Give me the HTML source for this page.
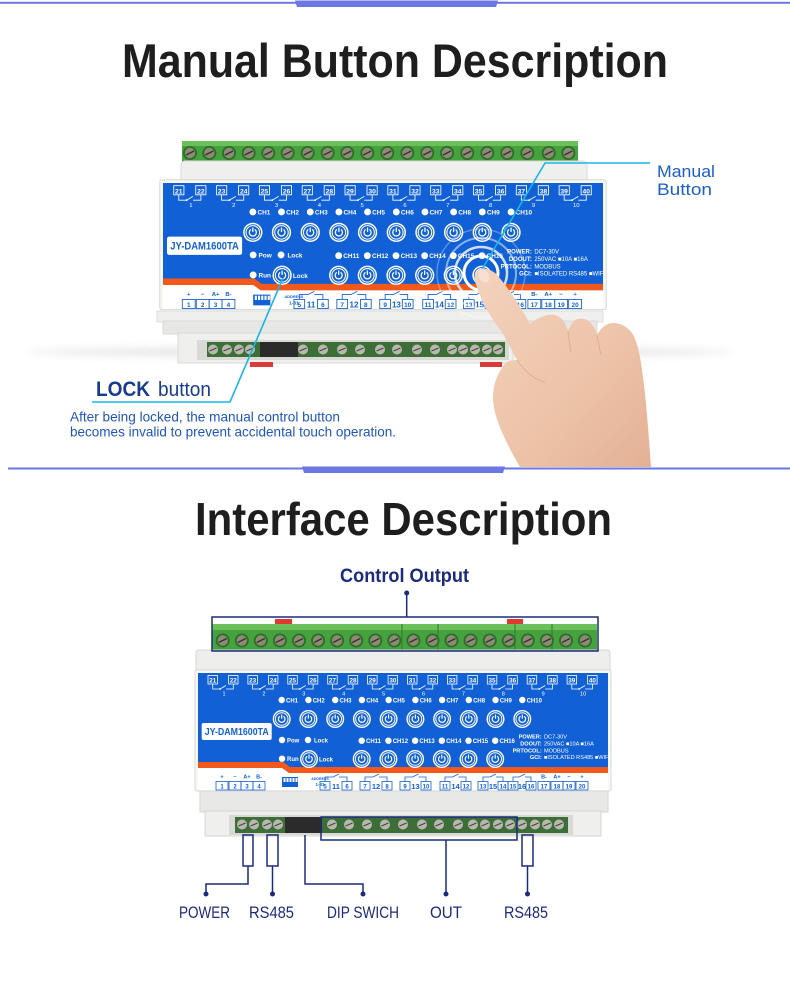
<!DOCTYPE html>
<html><head><meta charset="utf-8">
<style>html,body{margin:0;padding:0;background:#fff;}svg{display:block}</style>
</head><body>
<svg width="790" height="1008" viewBox="0 0 790 1008" xmlns="http://www.w3.org/2000/svg" font-family="'Liberation Sans', sans-serif">
<defs>
 <g id="b"><circle r="9" fill="#fff"/><circle r="7.6" fill="#1160d6"/><circle r="6.3" fill="none" stroke="#fff" stroke-width="1"/><path d="M-2.2,-2.4 A3.3,3.3 0 1 0 2.2,-2.4" fill="none" stroke="#fff" stroke-width="1.2" stroke-linecap="round"/><line x1="0" y1="-4" x2="0" y2="-0.8" stroke="#fff" stroke-width="1.2" stroke-linecap="round"/></g>
 <g id="pr"><rect x="-15" y="2.5" width="9.5" height="8.5" fill="none" stroke="#fff" stroke-width=".8"/><rect x="5.5" y="2.5" width="9.5" height="8.5" fill="none" stroke="#fff" stroke-width=".8"/><path d="M-10.3,11V16H-3M-3,16L3,12.5M3,16H10.3V11" fill="none" stroke="#fff" stroke-width="0.8"/><circle cx="-3" cy="16" r="0.9" fill="#fff"/></g>
 <g id="ts"><circle r="7" fill="#2e6e2a"/><circle r="5.2" fill="#8d8b74"/><line x1="-4" y1="2" x2="4" y2="-2" stroke="#333" stroke-width="1.3"/></g>
 <g id="ls"><circle r="5" fill="#b8b8ae"/><line x1="-3.5" y1="1.5" x2="3.5" y2="-1.5" stroke="#444" stroke-width="1.1"/></g>
 <filter id="blur" x="-20%" y="-300%" width="140%" height="700%"><feGaussianBlur stdDeviation="4"/></filter>
 <linearGradient id="skin" x1="0" y1="0" x2="1" y2="1"><stop offset="0" stop-color="#f3d2bd"/><stop offset="0.6" stop-color="#edc3a8"/><stop offset="1" stop-color="#e3b095"/></linearGradient>
</defs>

<rect width="790" height="1008" fill="#fff"/>

<!-- top divider -->
<rect x="0" y="1.8" width="790" height="2" fill="#6b77e3"/>
<polygon points="295,0.5 498,0.5 496,7 297,7" fill="#6b77e3"/>

<text x="122" y="77" font-size="47" font-weight="bold" fill="#1e1e1e" textLength="546" lengthAdjust="spacingAndGlyphs">Manual Button Description</text>

<!-- shadow -->
<ellipse cx="380" cy="352" rx="350" ry="5" fill="#c8c8c8" opacity="0.45" filter="url(#blur)"/>

<!-- DEVICE 1 -->
<rect x="182" y="141" width="396" height="22" rx="2" fill="#45a23e"/>
<rect x="182" y="141" width="396" height="5" fill="#6cc05a"/>
<g>
<use href="#ts" x="190" y="153"/><use href="#ts" x="209.3" y="153"/><use href="#ts" x="229" y="153"/><use href="#ts" x="248.7" y="153"/><use href="#ts" x="268.3" y="153"/><use href="#ts" x="287.7" y="153"/><use href="#ts" x="307.7" y="153"/><use href="#ts" x="327.7" y="153"/><use href="#ts" x="347.3" y="153"/><use href="#ts" x="367.3" y="153"/><use href="#ts" x="387.3" y="153"/><use href="#ts" x="407.3" y="153"/><use href="#ts" x="427.3" y="153"/><use href="#ts" x="447" y="153"/><use href="#ts" x="467.3" y="153"/><use href="#ts" x="487.3" y="153"/><use href="#ts" x="507.3" y="153"/><use href="#ts" x="527.3" y="153"/><use href="#ts" x="548.7" y="153"/><use href="#ts" x="568.3" y="153"/>
</g>
<rect x="181" y="161" width="406" height="24" rx="4" fill="#efefed" stroke="#dadad8"/>
<rect x="157" y="311" width="446" height="11" fill="#efefed" stroke="#dcdcda"/>
<rect x="163" y="321" width="434" height="13" fill="#e7e7e5" stroke="#dadad8"/>
<rect x="178" y="333" width="335" height="30" fill="#efefed" stroke="#dadad8"/>
<rect x="197" y="340" width="312" height="20" fill="#d9d9d5"/>
<rect x="207" y="342" width="298" height="15" fill="#3d6e37"/>
<rect x="260" y="342" width="38" height="15" fill="#2b2b2b"/>
<g>
<use href="#ls" x="213" y="349.5"/><use href="#ls" x="227" y="349.5"/><use href="#ls" x="239" y="349.5"/><use href="#ls" x="250" y="349.5"/><use href="#ls" x="303" y="349.5"/><use href="#ls" x="323" y="349.5"/><use href="#ls" x="342" y="349.5"/><use href="#ls" x="360" y="349.5"/><use href="#ls" x="380" y="349.5"/><use href="#ls" x="397" y="349.5"/><use href="#ls" x="417" y="349.5"/><use href="#ls" x="435" y="349.5"/><use href="#ls" x="452" y="349.5"/><use href="#ls" x="463" y="349.5"/><use href="#ls" x="475" y="349.5"/><use href="#ls" x="487" y="349.5"/><use href="#ls" x="498" y="349.5"/>
</g>
<rect x="250" y="362" width="23" height="5" fill="#d93a3a"/>
<rect x="480" y="362" width="22" height="5" fill="#d93a3a"/>

<g transform="translate(163,183) scale(1.0732)">
<rect x="-3" y="-3" width="416" height="121" rx="2" fill="#f7f7f5" stroke="#d9d9d7"/>
<rect x="0" y="0" width="410" height="100" fill="#1160d6"/>
<polygon points="0,89 85,89 92,94 410,94 410,100 91,100 84,95 0,95" fill="#f2581a"/>
<polygon points="0,95 84,95 91,100 410,100 410,117 0,117" fill="#fff"/>
<use href="#pr" x="25"/><use href="#pr" x="64.9"/><use href="#pr" x="104.8"/><use href="#pr" x="144.7"/><use href="#pr" x="184.6"/><use href="#pr" x="224.5"/><use href="#pr" x="264.4"/><use href="#pr" x="304.3"/><use href="#pr" x="344.2"/><use href="#pr" x="384.1"/>
<g fill="#fff" font-size="6.3" font-weight="bold" text-anchor="middle">
<text x="14.7" y="9.6">21</text><text x="35.3" y="9.6">22</text><text x="54.6" y="9.6">23</text><text x="75.2" y="9.6">24</text><text x="94.5" y="9.6">25</text><text x="115.1" y="9.6">26</text><text x="134.4" y="9.6">27</text><text x="155" y="9.6">28</text><text x="174.3" y="9.6">29</text><text x="194.9" y="9.6">30</text><text x="214.2" y="9.6">31</text><text x="234.8" y="9.6">32</text><text x="254.1" y="9.6">33</text><text x="274.7" y="9.6">34</text><text x="294" y="9.6">35</text><text x="314.6" y="9.6">36</text><text x="333.9" y="9.6">37</text><text x="354.5" y="9.6">38</text><text x="373.8" y="9.6">39</text><text x="394.4" y="9.6">40</text>
</g>
<g fill="#fff" font-size="5.5" text-anchor="middle">
<text x="26" y="22.5">1</text><text x="65.9" y="22.5">2</text><text x="105.8" y="22.5">3</text><text x="145.7" y="22.5">4</text><text x="185.6" y="22.5">5</text><text x="225.5" y="22.5">6</text><text x="265.4" y="22.5">7</text><text x="305.3" y="22.5">8</text><text x="345.2" y="22.5">9</text><text x="385.1" y="22.5">10</text>
</g>
<g fill="#fff">
<circle cx="83.7" cy="27" r="3.2"/><circle cx="110.4" cy="27" r="3.2"/><circle cx="137.2" cy="27" r="3.2"/><circle cx="163.9" cy="27" r="3.2"/><circle cx="190.6" cy="27" r="3.2"/><circle cx="217.4" cy="27" r="3.2"/><circle cx="244.1" cy="27" r="3.2"/><circle cx="270.8" cy="27" r="3.2"/><circle cx="297.5" cy="27" r="3.2"/><circle cx="324.3" cy="27" r="3.2"/>
<circle cx="163.7" cy="67.7" r="3.2"/><circle cx="190.4" cy="67.7" r="3.2"/><circle cx="217.1" cy="67.7" r="3.2"/><circle cx="243.8" cy="67.7" r="3.2"/><circle cx="270.5" cy="67.7" r="3.2"/><circle cx="297.2" cy="67.7" r="3.2"/>
<circle cx="84" cy="67" r="3.2"/><circle cx="110" cy="67" r="3.2"/><circle cx="84" cy="85.7" r="3.2"/>
</g>
<g fill="#fff" font-size="6" font-weight="bold">
<text x="88" y="29.3">CH1</text><text x="114.7" y="29.3">CH2</text><text x="141.5" y="29.3">CH3</text><text x="168.2" y="29.3">CH4</text><text x="194.9" y="29.3">CH5</text><text x="221.7" y="29.3">CH6</text><text x="248.4" y="29.3">CH7</text><text x="275.1" y="29.3">CH8</text><text x="301.8" y="29.3">CH9</text><text x="328.6" y="29.3">CH10</text>
<text x="168" y="70">CH11</text><text x="194.7" y="70">CH12</text><text x="221.4" y="70">CH13</text><text x="248.1" y="70">CH14</text><text x="274.8" y="70">CH15</text><text x="301.5" y="70">CH16</text>
<text x="89" y="69.3">Pow</text><text x="116" y="69.3">Lock</text><text x="89" y="88">Run</text><text x="121" y="88.5">Lock</text>
</g>
<use href="#b" x="83.7" y="46"/><use href="#b" x="110.4" y="46"/><use href="#b" x="137.2" y="46"/><use href="#b" x="163.9" y="46"/><use href="#b" x="190.6" y="46"/><use href="#b" x="217.4" y="46"/><use href="#b" x="244.1" y="46"/><use href="#b" x="270.8" y="46"/><use href="#b" x="297.5" y="46"/><use href="#b" x="324.3" y="46"/>
<use href="#b" x="163.7" y="86"/><use href="#b" x="190.4" y="86"/><use href="#b" x="217.1" y="86"/><use href="#b" x="243.8" y="86"/><use href="#b" x="270.5" y="86"/><use href="#b" x="297.2" y="86"/><use href="#b" x="111" y="86"/>
<rect x="3.7" y="50" width="70" height="17" rx="2" fill="#fff"/>
<text x="38.7" y="61.8" font-size="10" font-weight="bold" fill="#1160d6" text-anchor="middle" textLength="64" lengthAdjust="spacingAndGlyphs">JY-DAM1600TA</text>
<g fill="#fff" font-size="5.6">
<text x="343.7" y="65.5" text-anchor="end" font-weight="bold">POWER:</text><text x="346" y="65.5">DC7-30V</text>
<text x="343.7" y="72.5" text-anchor="end" font-weight="bold">DOOUT:</text><text x="346" y="72.5">250VAC ■10A ■16A</text>
<text x="343.7" y="79.5" text-anchor="end" font-weight="bold">PRTOCOL:</text><text x="346" y="79.5">MODBUS</text>
<text x="343.7" y="86" text-anchor="end" font-weight="bold">GCI:</text><text x="346" y="86">■ISOLATED RS485 ■WIFI</text>
</g>
<g fill="none" stroke="#1160d6" stroke-width=".8">
<rect x="18" y="108.5" width="12" height="8.5"/><rect x="31" y="108.5" width="12" height="8.5"/><rect x="43" y="108.5" width="12" height="8.5"/><rect x="55" y="108.5" width="12" height="8.5"/>
<rect x="122" y="108.5" width="10" height="8.5"/><rect x="144" y="108.5" width="10" height="8.5"/><rect x="162" y="108.5" width="10" height="8.5"/><rect x="184" y="108.5" width="10" height="8.5"/><rect x="202" y="108.5" width="10" height="8.5"/><rect x="223" y="108.5" width="10" height="8.5"/><rect x="242" y="108.5" width="10" height="8.5"/><rect x="263" y="108.5" width="10" height="8.5"/><rect x="280" y="108.5" width="10" height="8.5"/><rect x="300" y="108.5" width="10" height="8.5"/><rect x="310" y="108.5" width="10" height="8.5"/><rect x="328" y="108.5" width="10" height="8.5"/>
<rect x="340" y="108.5" width="12" height="8.5"/><rect x="353" y="108.5" width="12" height="8.5"/><rect x="365" y="108.5" width="12" height="8.5"/><rect x="378" y="108.5" width="12" height="8.5"/>
<path d="M127,108.5V104H135L141,101M141,104H149V108.5M167,108.5V104H175L181,101M181,104H189V108.5M207,108.5V104H214.5L220.5,101M220.5,104H228V108.5M247,108.5V104H254.5L260.5,101M260.5,104H268V108.5M285,108.5V104H292L298,101M298,104H305V108.5M315,108.5V104H321L327,101M327,104H333V108.5"/>
</g>
<rect x="84" y="104" width="16" height="10" fill="#1160d6"/>
<g fill="#fff"><rect x="85.5" y="105" width="2" height="4"/><rect x="88.5" y="105" width="2" height="4"/><rect x="91.5" y="105" width="2" height="4"/><rect x="94.5" y="105" width="2" height="4"/><rect x="97.5" y="105" width="2" height="4"/></g>
<g fill="#1160d6" font-weight="bold" text-anchor="middle">
<text x="122" y="107" font-size="3.6">ADDRESS</text><text x="122" y="113" font-size="4.5">1-31</text>
<g font-size="6">
<text x="24" y="115.5">1</text><text x="37" y="115.5">2</text><text x="49" y="115.5">3</text><text x="61" y="115.5">4</text><text x="127" y="115.5">5</text><text x="149" y="115.5">6</text><text x="167" y="115.5">7</text><text x="189" y="115.5">8</text><text x="207" y="115.5">9</text><text x="228" y="115.5">10</text><text x="247" y="115.5">11</text><text x="268" y="115.5">12</text><text x="285" y="115.5">13</text><text x="305" y="115.5">14</text><text x="315" y="115.5">15</text><text x="333" y="115.5">16</text><text x="346" y="115.5">17</text><text x="359" y="115.5">18</text><text x="371" y="115.5">19</text><text x="384" y="115.5">20</text>
</g>
<g font-size="7.5">
<text x="138" y="116">11</text><text x="178" y="116">12</text><text x="217.5" y="116">13</text><text x="257.5" y="116">14</text><text x="295" y="116">15</text><text x="324" y="116">16</text>
</g>
<g font-size="5.5">
<text x="24" y="105.5">+</text><text x="37" y="105.5">−</text><text x="49" y="105.5">A+</text><text x="61" y="105.5">B-</text><text x="346" y="105.5">B-</text><text x="359" y="105.5">A+</text><text x="371" y="105.5">−</text><text x="384" y="105.5">+</text>
</g>
</g>
</g>

<!-- ripples -->
<g fill="none" stroke="#fff">
<circle cx="481" cy="273" r="44" stroke-width="1.5" opacity="0.3"/>
<circle cx="481" cy="273" r="35" stroke-width="2" opacity="0.5"/>
<circle cx="481" cy="273" r="26" stroke-width="2.5" opacity="0.8"/>
<circle cx="481" cy="273" r="17" stroke-width="3"/>
</g>

<!-- cyan lines -->
<polyline points="481,271 545,163 650,163" fill="none" stroke="#19b5e8" stroke-width="1.6"/>
<polyline points="283,278 230,402 92,402" fill="none" stroke="#19b5e8" stroke-width="1.6"/>

<!-- hand -->
<path d="M481,269 C476,270 473,275 475,281 C480,300 492,320 502,332 L517,360 C510,360 505,362 502,368 C495,378 491,392 494,408 C497,425 510,450 520,467 L651,467 C649,440 647,410 644,385 C641,360 638,342 632,333 C626,325 616,321 608,324 C603,326 600,330 597,335 C594,323 586,317 578,319 C573,320 570,326 568,331 C565,319 557,313 548,315 C540,317 534,320 530,324 C520,305 508,288 498,276 C494,271 487,268 481,269 Z" fill="url(#skin)"/>
<ellipse cx="484" cy="276" rx="5" ry="7" transform="rotate(-28 484 276)" fill="#f7e0d2"/>
<g fill="none" stroke="#d49c80" stroke-width="1" opacity="0.55">
<path d="M517,360 C525,372 535,380 545,382"/>
<path d="M568,331 C569,340 570,348 571,352"/>
<path d="M597,335 C598,343 600,350 601,355"/>
</g>

<!-- labels top -->
<text x="657" y="177" font-size="17" fill="#1c5ec9" textLength="58" lengthAdjust="spacingAndGlyphs">Manual</text>
<text x="657" y="195" font-size="17" fill="#1c5ec9" textLength="55" lengthAdjust="spacingAndGlyphs">Button</text>
<text x="96" y="396" font-size="21" font-weight="bold" fill="#173c8f" textLength="54" lengthAdjust="spacingAndGlyphs">LOCK</text>
<text x="158" y="396" font-size="20" fill="#173c8f" textLength="53" lengthAdjust="spacingAndGlyphs">button</text>
<text x="70" y="421.5" font-size="14" fill="#1f55c3" textLength="270" lengthAdjust="spacingAndGlyphs">After being locked, the manual control button</text>
<text x="70" y="436.5" font-size="14" fill="#1f55c3" textLength="326" lengthAdjust="spacingAndGlyphs">becomes invalid to prevent accidental touch operation.</text>

<!-- divider 2 -->
<rect x="8" y="467.5" width="782" height="2" fill="#6b77e3"/>
<polygon points="302,466.5 505,466.5 503,473 304,473" fill="#6b77e3"/>

<text x="195" y="535" font-size="46" font-weight="bold" fill="#1e1e1e" textLength="417" lengthAdjust="spacingAndGlyphs">Interface Description</text>
<text x="340" y="582" font-size="19.5" font-weight="bold" fill="#1b2a7d" textLength="129" lengthAdjust="spacingAndGlyphs">Control Output</text>

<!-- DEVICE 2 -->
<rect x="212" y="624" width="385" height="27" rx="2" fill="#45a23e"/>
<rect x="212" y="624" width="385" height="6" fill="#6cc05a"/>
<g stroke="#2f7a2a" stroke-width="1"><line x1="402" y1="624" x2="402" y2="651"/><line x1="438" y1="624" x2="438" y2="651"/><line x1="515" y1="624" x2="515" y2="651"/><line x1="552" y1="624" x2="552" y2="651"/></g>
<g>
<use href="#ts" x="222.7" y="640.5"/><use href="#ts" x="241.8" y="640.5"/><use href="#ts" x="260.8" y="640.5"/><use href="#ts" x="279.9" y="640.5"/><use href="#ts" x="299" y="640.5"/><use href="#ts" x="318.1" y="640.5"/><use href="#ts" x="337.1" y="640.5"/><use href="#ts" x="356.2" y="640.5"/><use href="#ts" x="375.3" y="640.5"/><use href="#ts" x="394.3" y="640.5"/><use href="#ts" x="413.4" y="640.5"/><use href="#ts" x="432.5" y="640.5"/><use href="#ts" x="451.5" y="640.5"/><use href="#ts" x="470.6" y="640.5"/><use href="#ts" x="489.7" y="640.5"/><use href="#ts" x="508.8" y="640.5"/><use href="#ts" x="527.8" y="640.5"/><use href="#ts" x="546.9" y="640.5"/><use href="#ts" x="566" y="640.5"/><use href="#ts" x="585" y="640.5"/>
</g>
<rect x="275" y="619" width="17" height="5" fill="#e03a30"/>
<rect x="507" y="619" width="16" height="5" fill="#e03a30"/>
<rect x="196" y="650" width="414" height="24" rx="3" fill="#eeeeec" stroke="#d6d6d4"/>
<rect x="200" y="790" width="408" height="22" fill="#e8e8e6" stroke="#d6d6d4"/>
<rect x="205" y="811" width="396" height="25" fill="#efefed" stroke="#d6d6d4"/>
<rect x="229" y="815" width="344" height="20" fill="#d8d8d4"/>
<rect x="235" y="817" width="333" height="16" fill="#3d6e37"/>
<rect x="285" y="817" width="37" height="16" fill="#2b2b2b"/>
<g>
<use href="#ls" x="242" y="824.5"/><use href="#ls" x="254" y="824.5"/><use href="#ls" x="267" y="824.5"/><use href="#ls" x="278" y="824.5"/><use href="#ls" x="332" y="824.5"/><use href="#ls" x="349" y="824.5"/><use href="#ls" x="367" y="824.5"/><use href="#ls" x="385" y="824.5"/><use href="#ls" x="403" y="824.5"/><use href="#ls" x="422" y="824.5"/><use href="#ls" x="439" y="824.5"/><use href="#ls" x="458" y="824.5"/><use href="#ls" x="473" y="824.5"/><use href="#ls" x="485" y="824.5"/><use href="#ls" x="498" y="824.5"/><use href="#ls" x="510" y="824.5"/><use href="#ls" x="522" y="824.5"/><use href="#ls" x="535" y="824.5"/><use href="#ls" x="547" y="824.5"/><use href="#ls" x="559" y="824.5"/>
</g>

<g transform="translate(198,673)">
<rect x="-3" y="-3" width="416" height="121" rx="2" fill="#f7f7f5" stroke="#d9d9d7"/>
<rect x="0" y="0" width="410" height="100" fill="#1160d6"/>
<polygon points="0,89 85,89 92,94 410,94 410,100 91,100 84,95 0,95" fill="#f2581a"/>
<polygon points="0,95 84,95 91,100 410,100 410,117 0,117" fill="#fff"/>
<use href="#pr" x="25"/><use href="#pr" x="64.9"/><use href="#pr" x="104.8"/><use href="#pr" x="144.7"/><use href="#pr" x="184.6"/><use href="#pr" x="224.5"/><use href="#pr" x="264.4"/><use href="#pr" x="304.3"/><use href="#pr" x="344.2"/><use href="#pr" x="384.1"/>
<g fill="#fff" font-size="6.3" font-weight="bold" text-anchor="middle">
<text x="14.7" y="9.6">21</text><text x="35.3" y="9.6">22</text><text x="54.6" y="9.6">23</text><text x="75.2" y="9.6">24</text><text x="94.5" y="9.6">25</text><text x="115.1" y="9.6">26</text><text x="134.4" y="9.6">27</text><text x="155" y="9.6">28</text><text x="174.3" y="9.6">29</text><text x="194.9" y="9.6">30</text><text x="214.2" y="9.6">31</text><text x="234.8" y="9.6">32</text><text x="254.1" y="9.6">33</text><text x="274.7" y="9.6">34</text><text x="294" y="9.6">35</text><text x="314.6" y="9.6">36</text><text x="333.9" y="9.6">37</text><text x="354.5" y="9.6">38</text><text x="373.8" y="9.6">39</text><text x="394.4" y="9.6">40</text>
</g>
<g fill="#fff" font-size="5.5" text-anchor="middle">
<text x="26" y="22.5">1</text><text x="65.9" y="22.5">2</text><text x="105.8" y="22.5">3</text><text x="145.7" y="22.5">4</text><text x="185.6" y="22.5">5</text><text x="225.5" y="22.5">6</text><text x="265.4" y="22.5">7</text><text x="305.3" y="22.5">8</text><text x="345.2" y="22.5">9</text><text x="385.1" y="22.5">10</text>
</g>
<g fill="#fff">
<circle cx="83.7" cy="27" r="3.2"/><circle cx="110.4" cy="27" r="3.2"/><circle cx="137.2" cy="27" r="3.2"/><circle cx="163.9" cy="27" r="3.2"/><circle cx="190.6" cy="27" r="3.2"/><circle cx="217.4" cy="27" r="3.2"/><circle cx="244.1" cy="27" r="3.2"/><circle cx="270.8" cy="27" r="3.2"/><circle cx="297.5" cy="27" r="3.2"/><circle cx="324.3" cy="27" r="3.2"/>
<circle cx="163.7" cy="67.7" r="3.2"/><circle cx="190.4" cy="67.7" r="3.2"/><circle cx="217.1" cy="67.7" r="3.2"/><circle cx="243.8" cy="67.7" r="3.2"/><circle cx="270.5" cy="67.7" r="3.2"/><circle cx="297.2" cy="67.7" r="3.2"/>
<circle cx="84" cy="67" r="3.2"/><circle cx="110" cy="67" r="3.2"/><circle cx="84" cy="85.7" r="3.2"/>
</g>
<g fill="#fff" font-size="6" font-weight="bold">
<text x="88" y="29.3">CH1</text><text x="114.7" y="29.3">CH2</text><text x="141.5" y="29.3">CH3</text><text x="168.2" y="29.3">CH4</text><text x="194.9" y="29.3">CH5</text><text x="221.7" y="29.3">CH6</text><text x="248.4" y="29.3">CH7</text><text x="275.1" y="29.3">CH8</text><text x="301.8" y="29.3">CH9</text><text x="328.6" y="29.3">CH10</text>
<text x="168" y="70">CH11</text><text x="194.7" y="70">CH12</text><text x="221.4" y="70">CH13</text><text x="248.1" y="70">CH14</text><text x="274.8" y="70">CH15</text><text x="301.5" y="70">CH16</text>
<text x="89" y="69.3">Pow</text><text x="116" y="69.3">Lock</text><text x="89" y="88">Run</text><text x="121" y="88.5">Lock</text>
</g>
<use href="#b" x="83.7" y="46"/><use href="#b" x="110.4" y="46"/><use href="#b" x="137.2" y="46"/><use href="#b" x="163.9" y="46"/><use href="#b" x="190.6" y="46"/><use href="#b" x="217.4" y="46"/><use href="#b" x="244.1" y="46"/><use href="#b" x="270.8" y="46"/><use href="#b" x="297.5" y="46"/><use href="#b" x="324.3" y="46"/>
<use href="#b" x="163.7" y="86"/><use href="#b" x="190.4" y="86"/><use href="#b" x="217.1" y="86"/><use href="#b" x="243.8" y="86"/><use href="#b" x="270.5" y="86"/><use href="#b" x="297.2" y="86"/><use href="#b" x="111" y="86"/>
<rect x="3.7" y="50" width="70" height="17" rx="2" fill="#fff"/>
<text x="38.7" y="61.8" font-size="10" font-weight="bold" fill="#1160d6" text-anchor="middle" textLength="64" lengthAdjust="spacingAndGlyphs">JY-DAM1600TA</text>
<g fill="#fff" font-size="5.6">
<text x="343.7" y="65.5" text-anchor="end" font-weight="bold">POWER:</text><text x="346" y="65.5">DC7-30V</text>
<text x="343.7" y="72.5" text-anchor="end" font-weight="bold">DOOUT:</text><text x="346" y="72.5">250VAC ■10A ■16A</text>
<text x="343.7" y="79.5" text-anchor="end" font-weight="bold">PRTOCOL:</text><text x="346" y="79.5">MODBUS</text>
<text x="343.7" y="86" text-anchor="end" font-weight="bold">GCI:</text><text x="346" y="86">■ISOLATED RS485 ■WIFI</text>
</g>
<g fill="none" stroke="#1160d6" stroke-width=".8">
<rect x="18" y="108.5" width="12" height="8.5"/><rect x="31" y="108.5" width="12" height="8.5"/><rect x="43" y="108.5" width="12" height="8.5"/><rect x="55" y="108.5" width="12" height="8.5"/>
<rect x="122" y="108.5" width="10" height="8.5"/><rect x="144" y="108.5" width="10" height="8.5"/><rect x="162" y="108.5" width="10" height="8.5"/><rect x="184" y="108.5" width="10" height="8.5"/><rect x="202" y="108.5" width="10" height="8.5"/><rect x="223" y="108.5" width="10" height="8.5"/><rect x="242" y="108.5" width="10" height="8.5"/><rect x="263" y="108.5" width="10" height="8.5"/><rect x="280" y="108.5" width="10" height="8.5"/><rect x="300" y="108.5" width="10" height="8.5"/><rect x="310" y="108.5" width="10" height="8.5"/><rect x="328" y="108.5" width="10" height="8.5"/>
<rect x="340" y="108.5" width="12" height="8.5"/><rect x="353" y="108.5" width="12" height="8.5"/><rect x="365" y="108.5" width="12" height="8.5"/><rect x="378" y="108.5" width="12" height="8.5"/>
<path d="M127,108.5V104H135L141,101M141,104H149V108.5M167,108.5V104H175L181,101M181,104H189V108.5M207,108.5V104H214.5L220.5,101M220.5,104H228V108.5M247,108.5V104H254.5L260.5,101M260.5,104H268V108.5M285,108.5V104H292L298,101M298,104H305V108.5M315,108.5V104H321L327,101M327,104H333V108.5"/>
</g>
<rect x="84" y="104" width="16" height="10" fill="#1160d6"/>
<g fill="#fff"><rect x="85.5" y="105" width="2" height="4"/><rect x="88.5" y="105" width="2" height="4"/><rect x="91.5" y="105" width="2" height="4"/><rect x="94.5" y="105" width="2" height="4"/><rect x="97.5" y="105" width="2" height="4"/></g>
<g fill="#1160d6" font-weight="bold" text-anchor="middle">
<text x="122" y="107" font-size="3.6">ADDRESS</text><text x="122" y="113" font-size="4.5">1-31</text>
<g font-size="6">
<text x="24" y="115.5">1</text><text x="37" y="115.5">2</text><text x="49" y="115.5">3</text><text x="61" y="115.5">4</text><text x="127" y="115.5">5</text><text x="149" y="115.5">6</text><text x="167" y="115.5">7</text><text x="189" y="115.5">8</text><text x="207" y="115.5">9</text><text x="228" y="115.5">10</text><text x="247" y="115.5">11</text><text x="268" y="115.5">12</text><text x="285" y="115.5">13</text><text x="305" y="115.5">14</text><text x="315" y="115.5">15</text><text x="333" y="115.5">16</text><text x="346" y="115.5">17</text><text x="359" y="115.5">18</text><text x="371" y="115.5">19</text><text x="384" y="115.5">20</text>
</g>
<g font-size="7.5">
<text x="138" y="116">11</text><text x="178" y="116">12</text><text x="217.5" y="116">13</text><text x="257.5" y="116">14</text><text x="295" y="116">15</text><text x="324" y="116">16</text>
</g>
<g font-size="5.5">
<text x="24" y="105.5">+</text><text x="37" y="105.5">−</text><text x="49" y="105.5">A+</text><text x="61" y="105.5">B-</text><text x="346" y="105.5">B-</text><text x="359" y="105.5">A+</text><text x="371" y="105.5">−</text><text x="384" y="105.5">+</text>
</g>
</g>
</g>

<!-- connectors -->
<g fill="none" stroke="#1b2a7d" stroke-width="1.5">
<line x1="406.7" y1="593" x2="406.7" y2="617"/>
<rect x="212" y="617" width="386" height="34"/>
<rect x="321" y="817" width="196" height="23"/>
<polyline points="446,840 446,894"/>
<rect x="243" y="835" width="10" height="31"/>
<polyline points="248,866 248,884 206,884 206,894"/>
<rect x="267" y="835" width="11" height="31"/>
<polyline points="272.5,866 272.5,894"/>
<polyline points="305,835 305,884 363,884 363,894"/>
<rect x="522" y="835" width="11" height="31"/>
<polyline points="527.5,866 527.5,894"/>
</g>
<g fill="#1b2a7d">
<circle cx="406.7" cy="593" r="2.5"/>
<circle cx="206" cy="894" r="2.5"/><circle cx="272.5" cy="894" r="2.5"/><circle cx="363" cy="894" r="2.5"/><circle cx="446" cy="894" r="2.5"/><circle cx="527.5" cy="894" r="2.5"/>
</g>
<g fill="#1b2a7d" font-size="17">
<text x="179" y="918" textLength="51" lengthAdjust="spacingAndGlyphs">POWER</text>
<text x="249" y="918" textLength="45" lengthAdjust="spacingAndGlyphs">RS485</text>
<text x="327" y="918" textLength="72" lengthAdjust="spacingAndGlyphs">DIP SWICH</text>
<text x="430" y="918" textLength="32" lengthAdjust="spacingAndGlyphs">OUT</text>
<text x="504" y="918" textLength="44" lengthAdjust="spacingAndGlyphs">RS485</text>
</g>
</svg>
</body></html>
